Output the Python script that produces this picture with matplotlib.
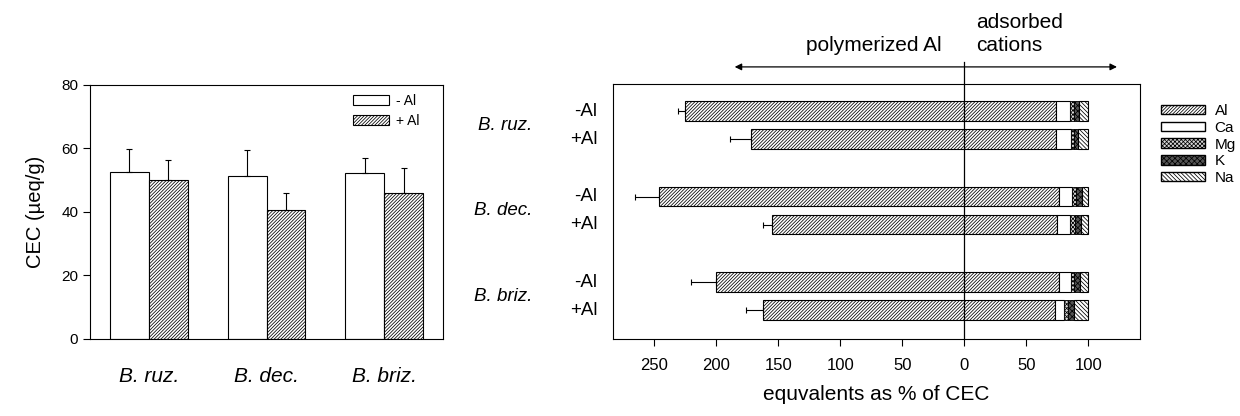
import numpy as np
import matplotlib.pyplot as plt
from matplotlib.patches import Patch
from matplotlib.transforms import blended_transform_factory

plt.rcParams['font.family'] = ['Liberation Sans', 'DejaVu Sans']
plt.rcParams['hatch.linewidth'] = 0.55

# left panel: CEC per species
species = ['B. ruz.', 'B. dec.', 'B. briz.']
cec_minus = [52.7, 51.2, 52.2]
cec_minus_err = [7.1, 8.3, 4.8]
cec_plus = [50.2, 40.7, 46.0]
cec_plus_err = [6.3, 5.3, 7.8]

# right panel: rows are ruz -Al, ruz +Al, dec -Al, dec +Al, briz -Al, briz +Al
treatments = ['-Al', '+Al']
poly_al = [225, 172, 246, 155, 200, 162]
poly_al_err = [6, 17, 19, 7, 20, 14]
ads_al = [74, 74, 76, 75, 76, 73]
ads_ca = [11, 12, 11, 10, 10, 7.5]
ads_mg = [3.5, 2.5, 3, 4, 2.5, 3.2]
ads_k = [4, 3.5, 4.7, 4.8, 4.5, 4.8]
ads_na = [7.5, 8, 5.3, 6.2, 7, 11.5]
xticks = [-250, -200, -150, -100, -50, 0, 50, 100]

AL_HATCH = '/' * 10
NA_HATCH = '\\' * 8
MG_HATCH = 'x' * 8
K_HATCH = 'x' * 6

fig = plt.figure(figsize=(12.4, 4.16), dpi=100)

# ---- left panel
ax1 = fig.add_axes([0.0726, 0.1851, 0.2847, 0.6106])
x = np.arange(len(species))
w = 0.33
ax1.bar(x - w/2, cec_minus, w, color='white', edgecolor='black', lw=0.8, label='- Al')
ax1.bar(x + w/2, cec_plus, w, color='white', edgecolor='black', lw=0.8, hatch=AL_HATCH, label='+ Al')
ax1.errorbar(x - w/2, cec_minus, yerr=[np.zeros(3), cec_minus_err], fmt='none',
             ecolor='black', elinewidth=0.8, capsize=2.5, capthick=0.8)
ax1.errorbar(x + w/2, cec_plus, yerr=[np.zeros(3), cec_plus_err], fmt='none',
             ecolor='black', elinewidth=0.8, capsize=2.5, capthick=0.8)
ax1.set_xlim(-0.5, 2.5)
ax1.set_ylim(0, 80)
ax1.set_yticks([0, 20, 40, 60, 80])
ax1.tick_params(axis='y', labelsize=11, length=5, width=0.8)
ax1.set_xticks(x)
ax1.set_xticklabels(species, fontsize=15, style='italic')
ax1.tick_params(axis='x', length=0, pad=20)
ax1.set_ylabel('CEC (µeq/g)', fontsize=14.5, labelpad=12)
for s in ax1.spines.values():
    s.set_linewidth(0.8)
ax1.legend(loc='upper left', bbox_to_anchor=(0.745, 0.965), frameon=False,
           fontsize=10, borderpad=0, borderaxespad=0, handlelength=2.6,
           handleheight=0.75, handletextpad=0.5, labelspacing=0.45)

# ---- right panel
ax2 = fig.add_axes([0.4944, 0.1851, 0.425, 0.613])
ypos = []
for g in range(3):
    ypos += [g - 0.164, g + 0.164]
ypos = np.array(ypos)
h = 0.228
poly = np.array(poly_al)
al = np.array(ads_al)
ca = np.array(ads_ca)
mg = np.array(ads_mg)
k = np.array(ads_k)
na = np.array(ads_na)

ax2.barh(ypos, poly + al, h, left=-poly, color='white', edgecolor='black', lw=0.8, hatch=AL_HATCH)
ax2.barh(ypos, ca, h, left=al, color='white', edgecolor='black', lw=0.8)
ax2.barh(ypos, mg, h, left=al + ca, color='#d8d8d8', edgecolor='black', lw=0.6, hatch=MG_HATCH)
ax2.barh(ypos, k, h, left=al + ca + mg, color='#555555', edgecolor='black', lw=0.6, hatch=K_HATCH)
ax2.barh(ypos, na, h, left=al + ca + mg + k, color='white', edgecolor='black', lw=0.8, hatch=NA_HATCH)
ax2.errorbar(-poly, ypos, xerr=[poly_al_err, np.zeros(6)], fmt='none',
             ecolor='black', elinewidth=0.8, capsize=2.5, capthick=0.8)

ax2.set_xlim(-283, 141.6)
ax2.set_ylim(2.5, -0.48)
ax2.set_yticks([])
ax2.set_xticks(xticks)
ax2.set_xticklabels([str(abs(t)) for t in xticks], fontsize=12)
ax2.tick_params(axis='x', length=5, width=0.8, pad=9)
ax2.set_xlabel('equvalents as % of CEC', fontsize=15, labelpad=8)
for s in ax2.spines.values():
    s.set_linewidth(0.8)

trans = blended_transform_factory(ax2.transData, ax2.transAxes)
ax2.plot([0, 0], [0, 1.086], transform=trans, color='black', lw=0.9, clip_on=False)
ax2.annotate('', xy=(-185, 1.067), xytext=(123, 1.067), xycoords=trans, textcoords=trans,
             arrowprops=dict(arrowstyle='<|-|>', color='black', lw=0.9,
                             mutation_scale=10, shrinkA=0, shrinkB=0))
ax2.text(-73, 1.149, 'polymerized Al', transform=trans, ha='center', va='center', fontsize=15)
ax2.text(9.7, 1.149, 'cations', transform=trans, ha='left', va='center', fontsize=15)
ax2.text(9.7, 1.243, 'adsorbed', transform=trans, ha='left', va='center', fontsize=15)

ytrans = blended_transform_factory(ax2.transAxes, ax2.transData)
for g, sp in enumerate(species):
    ax2.text(-0.154, g, sp, transform=ytrans, ha='right', va='center',
             fontsize=13.5, style='italic')
    for j, t in enumerate(treatments):
        ax2.text(-0.030, ypos[2 * g + j], t, transform=ytrans, ha='right',
                 va='center', fontsize=13.5)

handles = [
    Patch(facecolor='white', edgecolor='black', hatch=AL_HATCH, label='Al'),
    Patch(facecolor='white', edgecolor='black', label='Ca'),
    Patch(facecolor='#d8d8d8', edgecolor='black', hatch=MG_HATCH, label='Mg'),
    Patch(facecolor='#555555', edgecolor='black', hatch=K_HATCH, label='K'),
    Patch(facecolor='white', edgecolor='black', hatch=NA_HATCH, label='Na'),
]
fig.legend(handles=handles, loc='upper left', bbox_to_anchor=(1161 / 1240, 1 - 104 / 416),
           frameon=False, fontsize=11, borderpad=0, borderaxespad=0,
           handlelength=2.9, handleheight=0.6, handletextpad=0.6, labelspacing=0.18)

fig.savefig('out.png', dpi=100)
